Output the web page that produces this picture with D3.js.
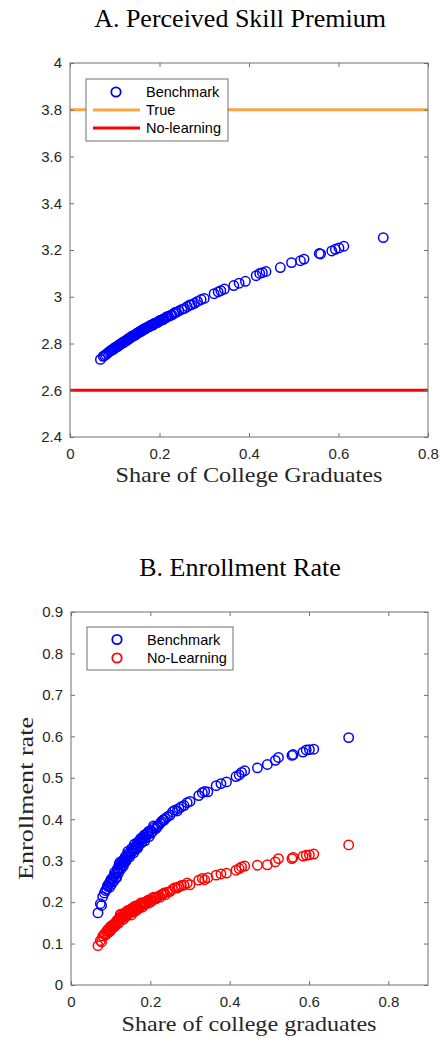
<!DOCTYPE html>
<html>
<head>
<meta charset="utf-8">
<script src="https://cdn.jsdelivr.net/npm/d3@7"></script>
<style>
  html, body { margin: 0; padding: 0; background: #fff; }
  svg { display: block; }
</style>
</head>
<body>
<svg id="chart" width="440" height="1038"></svg>
<script>
// Share of college graduates for each observation (shared by both panels)
const shareGrad = [
  0.068, 0.074, 0.077, 0.080, 0.084, 0.087, 0.090, 0.093, 0.096, 0.099,
  0.102, 0.105, 0.108, 0.112, 0.115, 0.118, 0.121, 0.124, 0.127, 0.130,
  0.132, 0.135, 0.138, 0.142, 0.145, 0.148, 0.152, 0.155, 0.158, 0.161,
  0.165, 0.168, 0.171, 0.174, 0.177, 0.180, 0.183, 0.186, 0.190, 0.193,
  0.197, 0.200, 0.205, 0.210, 0.214, 0.220, 0.225, 0.232, 0.238, 0.243,
  0.250, 0.262, 0.272, 0.285, 0.293, 0.300, 0.322, 0.331, 0.337, 0.345,
  0.366, 0.378, 0.392, 0.416, 0.424, 0.430, 0.438, 0.470, 0.495, 0.515,
  0.523, 0.557, 0.560, 0.585, 0.593, 0.601, 0.612, 0.700,
  0.092, 0.098, 0.101, 0.107, 0.110, 0.113, 0.117, 0.120, 0.123, 0.126,
  0.129, 0.134, 0.137, 0.140, 0.143, 0.147, 0.150, 0.153, 0.157, 0.160,
  0.163, 0.167, 0.170, 0.176, 0.179, 0.185, 0.188, 0.195, 0.202, 0.208,
  0.217, 0.228, 0.235, 0.256, 0.268, 0.278
];

// Panel A: perceived skill premium (benchmark)
const perceivedPremium = [
  2.732, 2.745, 2.748, 2.752, 2.759, 2.764, 2.768, 2.772, 2.776, 2.779,
  2.784, 2.787, 2.791, 2.796, 2.800, 2.803, 2.807, 2.810, 2.814, 2.818,
  2.821, 2.825, 2.829, 2.833, 2.836, 2.840, 2.845, 2.849, 2.852, 2.856,
  2.860, 2.863, 2.867, 2.870, 2.873, 2.876, 2.879, 2.882, 2.886, 2.889,
  2.893, 2.896, 2.901, 2.906, 2.910, 2.916, 2.921, 2.928, 2.934, 2.939,
  2.946, 2.958, 2.966, 2.980, 2.988, 2.993, 3.013, 3.021, 3.026, 3.033,
  3.048, 3.058, 3.066, 3.090, 3.100, 3.103, 3.108, 3.125, 3.146, 3.154,
  3.161, 3.185, 3.183, 3.196, 3.203, 3.209, 3.216, 3.253,
  2.770, 2.776, 2.783, 2.788, 2.795, 2.796, 2.804, 2.805, 2.811, 2.812,
  2.819, 2.823, 2.830, 2.830, 2.836, 2.838, 2.845, 2.846, 2.853, 2.853,
  2.860, 2.861, 2.868, 2.871, 2.877, 2.879, 2.886, 2.889, 2.900, 2.902,
  2.915, 2.922, 2.933, 2.950, 2.965, 2.972
];
const truePremium = 3.8;
const noLearningPremium = 2.6;

// Panel B: enrollment rates
const enrollBenchmark = [
  0.174, 0.196, 0.192, 0.213, 0.222, 0.228, 0.231, 0.238, 0.245, 0.250,
  0.243, 0.258, 0.262, 0.268, 0.259, 0.275, 0.290, 0.283, 0.295, 0.300,
  0.287, 0.305, 0.298, 0.312, 0.318, 0.309, 0.322, 0.327, 0.319, 0.333,
  0.338, 0.330, 0.345, 0.350, 0.342, 0.352, 0.357, 0.348, 0.362, 0.366,
  0.358, 0.373, 0.370, 0.380, 0.377, 0.385, 0.390, 0.398, 0.402, 0.406,
  0.410, 0.422, 0.426, 0.433, 0.440, 0.443, 0.457, 0.464, 0.467, 0.466,
  0.481, 0.486, 0.490, 0.503, 0.507, 0.513, 0.517, 0.524, 0.532, 0.542,
  0.549, 0.554, 0.556, 0.562, 0.567, 0.568, 0.569, 0.597,
  0.240, 0.236, 0.255, 0.250, 0.272, 0.258, 0.280, 0.270, 0.296, 0.280,
  0.290, 0.295, 0.310, 0.302, 0.322, 0.313, 0.316, 0.330, 0.324, 0.340,
  0.328, 0.344, 0.336, 0.354, 0.346, 0.362, 0.355, 0.370, 0.366, 0.384,
  0.381, 0.394, 0.398, 0.418, 0.420, 0.430
];
const enrollNoLearning = [
  0.095, 0.107, 0.104, 0.118, 0.123, 0.120, 0.130, 0.134, 0.128, 0.140,
  0.143, 0.139, 0.147, 0.150, 0.155, 0.148, 0.160, 0.170, 0.163, 0.169,
  0.158, 0.172, 0.165, 0.176, 0.171, 0.180, 0.169, 0.183, 0.176, 0.186,
  0.180, 0.189, 0.185, 0.191, 0.195, 0.188, 0.197, 0.194, 0.200, 0.203,
  0.198, 0.206, 0.204, 0.210, 0.208, 0.214, 0.212, 0.220, 0.218, 0.224,
  0.226, 0.235, 0.237, 0.241, 0.246, 0.242, 0.253, 0.257, 0.254, 0.259,
  0.265, 0.268, 0.270, 0.277, 0.281, 0.285, 0.287, 0.289, 0.290, 0.297,
  0.305, 0.305, 0.308, 0.311, 0.313, 0.314, 0.316, 0.338,
  0.125, 0.135, 0.132, 0.145, 0.141, 0.146, 0.156, 0.150, 0.162, 0.171,
  0.160, 0.167, 0.175, 0.168, 0.180, 0.174, 0.178, 0.185, 0.180, 0.190,
  0.184, 0.192, 0.188, 0.198, 0.192, 0.200, 0.196, 0.205, 0.202, 0.212,
  0.210, 0.218, 0.222, 0.231, 0.234, 0.240
];

// Tick values and labels
const aXTicks = [0, 0.2, 0.4, 0.6, 0.8];
const aXTickLabels = ["0", "0.2", "0.4", "0.6", "0.8"];
const aYTicks = [2.4, 2.6, 2.8, 3.0, 3.2, 3.4, 3.6, 3.8, 4.0];
const aYTickLabels = ["2.4", "2.6", "2.8", "3", "3.2", "3.4", "3.6", "3.8", "4"];
const bXTicks = [0, 0.2, 0.4, 0.6, 0.8];
const bXTickLabels = ["0", "0.2", "0.4", "0.6", "0.8"];
const bYTicks = [0, 0.1, 0.2, 0.3, 0.4, 0.5, 0.6, 0.7, 0.8, 0.9];
const bYTickLabels = ["0", "0.1", "0.2", "0.3", "0.4", "0.5", "0.6", "0.7", "0.8", "0.9"];

const BLUE = "#0000ff";
const RED = "#ff0000";
const ORANGE = "#f9a644";
const AXIS = "#707070";
const TEXT = "#262626";
const TICK_FONT = "'Liberation Sans', Arial, Helvetica, sans-serif";
const SERIF = "'Liberation Serif', 'Times New Roman', Times, serif";

const svg = d3.select("#chart");

function drawFrame(g, x, y, xTicks, xLabels, yTicks, yLabels) {
  const [x0, x1] = x.range();
  const [y0, y1] = y.range();
  const fmtX = d => xLabels[xTicks.indexOf(d)];
  const fmtY = d => yLabels[yTicks.indexOf(d)];

  const bottom = g.append("g").attr("transform", `translate(0,${y0})`)
    .call(d3.axisBottom(x).tickValues(xTicks).tickFormat(fmtX)
      .tickSizeInner(-4).tickSizeOuter(0).tickPadding(11));
  const left = g.append("g").attr("transform", `translate(${x0},0)`)
    .call(d3.axisLeft(y).tickValues(yTicks).tickFormat(fmtY)
      .tickSizeInner(-4).tickSizeOuter(0).tickPadding(8));
  const top = g.append("g").attr("transform", `translate(0,${y1})`)
    .call(d3.axisTop(x).tickValues(xTicks).tickFormat("")
      .tickSizeInner(-4).tickSizeOuter(0));
  const right = g.append("g").attr("transform", `translate(${x1},0)`)
    .call(d3.axisRight(y).tickValues(yTicks).tickFormat("")
      .tickSizeInner(-4).tickSizeOuter(0));

  [bottom, left, top, right].forEach(a => {
    a.select(".domain").remove();
    a.selectAll(".tick line").attr("stroke", AXIS).attr("stroke-width", 1);
    a.selectAll(".tick text")
      .attr("fill", TEXT)
      .style("font-family", TICK_FONT)
      .style("font-size", "15px");
  });

  g.append("rect")
    .attr("x", x0).attr("y", y1)
    .attr("width", x1 - x0).attr("height", y0 - y1)
    .attr("fill", "none").attr("stroke", AXIS).attr("stroke-width", 1);
}

function drawCircles(g, xs, ys, x, y, color) {
  g.append("g").selectAll("circle")
    .data(xs.map((d, i) => [d, ys[i]]))
    .join("circle")
    .attr("cx", d => x(d[0]))
    .attr("cy", d => y(d[1]))
    .attr("r", 4.7)
    .attr("fill", "none")
    .attr("stroke", color)
    .attr("stroke-width", 1.5);
}

function legend(g, x, y, w, h, items) {
  const lg = g.append("g").attr("transform", `translate(${x},${y})`);
  lg.append("rect").attr("width", w).attr("height", h)
    .attr("fill", "#fff").attr("stroke", AXIS).attr("stroke-width", 1);
  items.forEach(it => {
    const cy = it.dy;
    if (it.type === "circle") {
      lg.append("circle").attr("cx", 30).attr("cy", cy).attr("r", 4.7)
        .attr("fill", "none").attr("stroke", it.color).attr("stroke-width", 1.8);
    } else {
      lg.append("line").attr("x1", 7).attr("x2", 54).attr("y1", cy).attr("y2", cy)
        .attr("stroke", it.color).attr("stroke-width", 3);
    }
    lg.append("text").attr("x", 60).attr("y", cy).attr("dy", "0.36em")
      .attr("fill", "#000")
      .style("font-family", TICK_FONT).style("font-size", "14.5px")
      .text(it.label);
  });
}

// ---------- Panel A ----------
{
  const g = svg.append("g");
  const x = d3.scaleLinear().domain([0, 0.8]).range([70, 428]);
  const y = d3.scaleLinear().domain([2.4, 4]).range([437, 63]);

  g.append("text").attr("x", 240).attr("y", 27).attr("text-anchor", "middle")
    .style("font-family", SERIF).style("font-size", "26px").attr("fill", "#000")
    .text("A. Perceived Skill Premium");

  // reference lines
  g.append("line").attr("x1", x(0)).attr("x2", x(0.8))
    .attr("y1", y(truePremium)).attr("y2", y(truePremium))
    .attr("stroke", ORANGE).attr("stroke-width", 3);
  g.append("line").attr("x1", x(0)).attr("x2", x(0.8))
    .attr("y1", y(noLearningPremium)).attr("y2", y(noLearningPremium))
    .attr("stroke", RED).attr("stroke-width", 3);

  drawCircles(g, shareGrad, perceivedPremium, x, y, BLUE);
  drawFrame(g, x, y, aXTicks, aXTickLabels, aYTicks, aYTickLabels);

  g.append("text").attr("x", 249).attr("y", 482).attr("text-anchor", "middle")
    .attr("textLength", 267).attr("lengthAdjust", "spacingAndGlyphs")
    .style("font-family", SERIF).style("font-size", "22px").attr("fill", TEXT)
    .text("Share of College Graduates");

  legend(g, 86, 79, 142, 62, [
    { type: "circle", color: BLUE, label: "Benchmark", dy: 13 },
    { type: "line", color: ORANGE, label: "True", dy: 31 },
    { type: "line", color: RED, label: "No-learning", dy: 49 }
  ]);
}

// ---------- Panel B ----------
{
  const g = svg.append("g");
  const x = d3.scaleLinear().domain([0, 0.9]).range([71, 428]);
  const y = d3.scaleLinear().domain([0, 0.9]).range([985, 612]);

  g.append("text").attr("x", 240).attr("y", 576).attr("text-anchor", "middle")
    .style("font-family", SERIF).style("font-size", "26px").attr("fill", "#000")
    .text("B. Enrollment Rate");

  drawCircles(g, shareGrad, enrollBenchmark, x, y, BLUE);
  drawCircles(g, shareGrad, enrollNoLearning, x, y, RED);
  drawFrame(g, x, y, bXTicks, bXTickLabels, bYTicks, bYTickLabels);

  g.append("text").attr("x", 249).attr("y", 1031).attr("text-anchor", "middle")
    .attr("textLength", 255).attr("lengthAdjust", "spacingAndGlyphs")
    .style("font-family", SERIF).style("font-size", "22px").attr("fill", TEXT)
    .text("Share of college graduates");

  g.append("text")
    .attr("transform", `translate(33,${(985 + 612) / 2}) rotate(-90)`)
    .attr("text-anchor", "middle")
    .attr("textLength", 163).attr("lengthAdjust", "spacingAndGlyphs")
    .style("font-family", SERIF).style("font-size", "21px").attr("fill", TEXT)
    .text("Enrollment rate");

  legend(g, 87, 627, 146, 43, [
    { type: "circle", color: BLUE, label: "Benchmark", dy: 12.5 },
    { type: "circle", color: RED, label: "No-Learning", dy: 31 }
  ]);
}
</script>
</body>
</html>
